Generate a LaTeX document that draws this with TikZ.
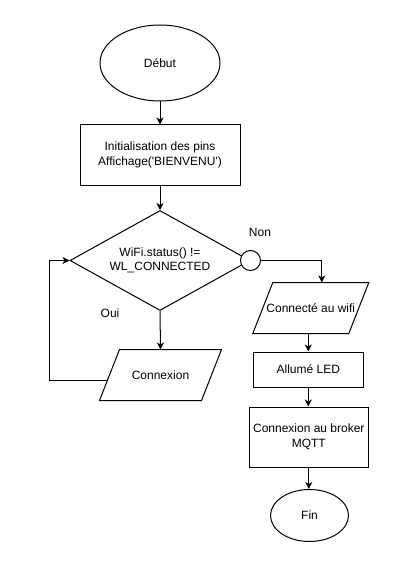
\documentclass[tikz,border=0pt]{standalone}
\usepackage{fontspec}
\setmainfont{Liberation Sans}
\usetikzlibrary{shapes.geometric,arrows.meta,calc}
\begin{document}
\begin{tikzpicture}[x=1pt,y=-1pt, line width=1pt,
  every node/.style={font=\fontsize{12}{14.5}\selectfont, align=center},
  box/.style={draw, rectangle, inner sep=0},
  term/.style={draw, ellipse, inner sep=0},
  para/.style={rectangle, inner sep=0},
  dec/.style={draw, diamond, aspect=1.8, inner sep=0, minimum width=180pt, minimum height=100pt},
  arr/.style={-{Stealth[length=7pt,width=7pt,inset=2pt]}},
  lbl/.style={inner sep=0}]
\useasboundingbox (0,0) rectangle (402,572);
\fill[white] (0,0) rectangle (402,572);
% nodes
\node[term, minimum width=120pt, minimum height=76pt] (debut) at (160,63) {Début};
\node[box, minimum width=160pt, minimum height=60pt] (init) at (160,155) {Initialisation des pins\\Affichage(\textquotesingle BIENVENU\textquotesingle)};
\node[dec] (cond) at (160,260.5) {WiFi.status() !=\\WL\_CONNECTED};
\node[para, minimum width=121pt, minimum height=50pt] (cnx) at (160.5,375) {Connexion};
\node[para, minimum width=115pt, minimum height=50pt] (wifi) at (310.8,308) {Connecté au wifi};
\node[box, minimum width=110pt, minimum height=35pt] (led) at (308.3,369.5) {Allumé LED};
\node[box, minimum width=119pt, minimum height=60pt] (broker) at (308.8,437) {Connexion au broker\\MQTT};
\node[term, minimum width=78pt, minimum height=52pt] (fin) at (309.5,515.5) {Fin};
\node[lbl] (non) at (260,232) {Non};
\node[lbl] (oui) at (110,313) {Oui};
% parallelograms
\coordinate (cnxTL) at ($(cnx.north west)+(20,0)$);
\coordinate (cnxBR) at ($(cnx.south east)+(-20,0)$);
\draw (cnxTL) -- (cnx.north east) -- (cnxBR) -- (cnx.south west) -- cycle;
\coordinate (wifiTL) at ($(wifi.north west)+(20,0)$);
\coordinate (wifiBR) at ($(wifi.south east)+(-20,0)$);
\draw (wifiTL) -- (wifi.north east) -- (wifiBR) -- (wifi.south west) -- cycle;
% connectors
\draw[arr] (debut.south) -- (init.north);
\draw[arr] (init.south) -- (cond.north);
\draw[arr] (cond.south) -- (cnx.north);
\coordinate (cnxL) at ($(cnx.south west)!0.4!(cnxTL)$);
\draw[arr] (cnxL) -- ++(-58,0) |- (cond.west);
\node[draw, fill=white, circle, minimum size=20pt, inner sep=0] (circ) at (cond.east) {};
\draw[arr] (circ.east) -| ([xshift=11pt]wifi.north);
\draw[arr] (wifi.south -| led.north) -- (led.north);
\draw[arr] (led.south) -- (led.south |- broker.north);
\draw[arr] (broker.south) -- (broker.south |- fin.north);
\end{tikzpicture}
\end{document}
